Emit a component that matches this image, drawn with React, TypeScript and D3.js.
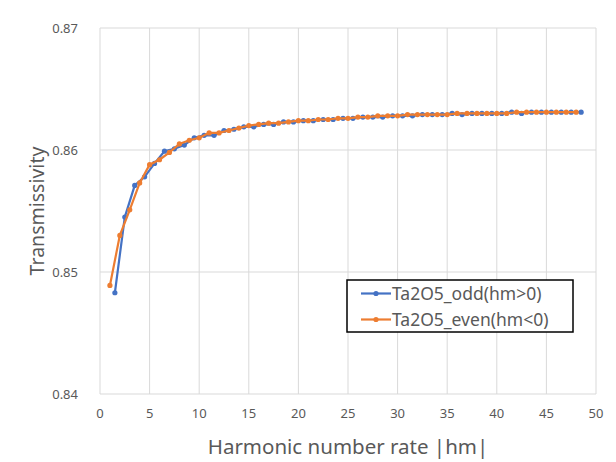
import { useEffect, useRef } from "react";
import * as d3 from "d3";

// blue series: hm = 1.5, 2.5, ... 48.5
const oddHm = [
  1.5, 2.5, 3.5, 4.5, 5.5, 6.5, 7.5, 8.5, 9.5, 10.5, 11.5, 12.5, 13.5, 14.5, 15.5, 16.5,
  17.5, 18.5, 19.5, 20.5, 21.5, 22.5, 23.5, 24.5, 25.5, 26.5, 27.5, 28.5, 29.5, 30.5, 31.5,
  32.5, 33.5, 34.5, 35.5, 36.5, 37.5, 38.5, 39.5, 40.5, 41.5, 42.5, 43.5, 44.5, 45.5, 46.5,
  47.5, 48.5,
];
const oddValues = [
  0.8483, 0.8545, 0.8571, 0.8578, 0.8589, 0.8599, 0.8601, 0.8604, 0.861, 0.8612, 0.8612,
  0.8616, 0.8617, 0.8619, 0.8619, 0.8621, 0.8621, 0.8623, 0.8623, 0.8624, 0.8624, 0.8625,
  0.8625, 0.8626, 0.8626, 0.8627, 0.8627, 0.8627, 0.8628, 0.8628, 0.8628, 0.8629, 0.8629,
  0.8629, 0.863, 0.8629, 0.863, 0.863, 0.863, 0.863, 0.8631, 0.863, 0.8631, 0.8631, 0.8631,
  0.8631, 0.8631, 0.8631,
];

// orange series: hm = 1, 2, ... 48
const evenHm = [
  1, 2, 3, 4, 5, 6, 7, 8, 9, 10, 11, 12, 13, 14, 15, 16, 17, 18, 19, 20, 21, 22, 23, 24,
  25, 26, 27, 28, 29, 30, 31, 32, 33, 34, 35, 36, 37, 38, 39, 40, 41, 42, 43, 44, 45, 46,
  47, 48,
];
const evenValues = [
  0.8489, 0.853, 0.8551, 0.8573, 0.8588, 0.8592, 0.8598, 0.8605, 0.8608, 0.861, 0.8614,
  0.8614, 0.8616, 0.8618, 0.862, 0.8621, 0.8622, 0.8622, 0.8623, 0.8624, 0.8624, 0.8625,
  0.8625, 0.8626, 0.8626, 0.8627, 0.8627, 0.8628, 0.8628, 0.8628, 0.8629, 0.8629, 0.8629,
  0.8629, 0.8629, 0.863, 0.863, 0.863, 0.863, 0.863, 0.863, 0.8631, 0.8631, 0.8631, 0.8631,
  0.8631, 0.8631, 0.8631,
];

const xTicks = [0, 5, 10, 15, 20, 25, 30, 35, 40, 45, 50];
const yTicks = [0.84, 0.85, 0.86, 0.87];
const seriesNames = ["Ta2O5_odd(hm>0)", "Ta2O5_even(hm<0)"];
const seriesColors = ["#4472C4", "#ED7D31"];

const FONT = "'Noto Sans', 'Open Sans', sans-serif";
const TEXT = "#595959";

export default function App() {
  const svgRef = useRef<SVGSVGElement>(null);

  useEffect(() => {
    if (!svgRef.current) return;
    const svg = d3.select(svgRef.current);
    svg.selectAll("*").remove();

    const margin = { top: 28, right: 20, bottom: 68, left: 100 };
    const width = 616 - margin.left - margin.right;
    const height = 462 - margin.top - margin.bottom;

    const x = d3.scaleLinear().domain([0, 50]).range([0, width]);
    const y = d3.scaleLinear().domain([0.84, 0.87]).range([height, 0]);

    const g = svg
      .append("g")
      .attr("transform", `translate(${margin.left},${margin.top})`);

    // grid
    g.selectAll(".vgrid")
      .data(xTicks)
      .enter()
      .append("line")
      .attr("x1", (d) => x(d))
      .attr("x2", (d) => x(d))
      .attr("y1", 0)
      .attr("y2", height)
      .attr("stroke", "#d9d9d9")
      .attr("stroke-width", 1);

    g.selectAll(".hgrid")
      .data(yTicks)
      .enter()
      .append("line")
      .attr("x1", 0)
      .attr("x2", width)
      .attr("y1", (d) => y(d))
      .attr("y2", (d) => y(d))
      .attr("stroke", "#d9d9d9")
      .attr("stroke-width", 1);

    // tick labels
    g.selectAll(".xlab")
      .data(xTicks)
      .enter()
      .append("text")
      .attr("x", (d) => x(d))
      .attr("y", height + 24)
      .attr("text-anchor", "middle")
      .attr("font-family", FONT)
      .attr("font-size", 13)
      .attr("fill", TEXT)
      .text((d) => d3.format("d")(d));

    g.selectAll(".ylab")
      .data(yTicks)
      .enter()
      .append("text")
      .attr("x", -22)
      .attr("y", (d) => y(d) + 5)
      .attr("text-anchor", "end")
      .attr("font-family", FONT)
      .attr("font-size", 13)
      .attr("fill", TEXT)
      .text((d) => d3.format(".2f")(d));

    // axis titles
    svg
      .append("text")
      .attr("x", margin.left + width / 2)
      .attr("y", 454)
      .attr("text-anchor", "middle")
      .attr("font-family", FONT)
      .attr("font-size", 20.5)
      .attr("fill", TEXT)
      .text("Harmonic number rate  |hm|");

    svg
      .append("text")
      .attr("transform", `translate(44,${margin.top + height / 2}) rotate(-90)`)
      .attr("text-anchor", "middle")
      .attr("font-family", FONT)
      .attr("font-size", 19.5)
      .attr("fill", TEXT)
      .text("Transmissivity");

    // series
    const series = [
      { xs: oddHm, ys: oddValues, color: seriesColors[0] },
      { xs: evenHm, ys: evenValues, color: seriesColors[1] },
    ];

    const line = d3
      .line<[number, number]>()
      .x((d) => x(d[0]))
      .y((d) => y(d[1]));

    series.forEach((s) => {
      const pts: [number, number][] = s.xs.map((v, i) => [v, s.ys[i]]);
      g.append("path")
        .datum(pts)
        .attr("d", line)
        .attr("fill", "none")
        .attr("stroke", s.color)
        .attr("stroke-width", 2.2);
      g.selectAll(null)
        .data(pts)
        .enter()
        .append("circle")
        .attr("cx", (d) => x(d[0]))
        .attr("cy", (d) => y(d[1]))
        .attr("r", 2.6)
        .attr("fill", s.color);
    });

    // legend
    const lg = svg.append("g").attr("transform", "translate(347,280)");
    lg.append("rect")
      .attr("width", 226)
      .attr("height", 52)
      .attr("fill", "white")
      .attr("stroke", "black")
      .attr("stroke-width", 1.5);
    seriesNames.forEach((name, i) => {
      const yy = 13.5 + i * 26;
      lg.append("line")
        .attr("x1", 14)
        .attr("x2", 44)
        .attr("y1", yy)
        .attr("y2", yy)
        .attr("stroke", seriesColors[i])
        .attr("stroke-width", 2.2);
      lg.append("circle")
        .attr("cx", 29)
        .attr("cy", yy)
        .attr("r", 2.6)
        .attr("fill", seriesColors[i]);
      lg.append("text")
        .attr("x", 45)
        .attr("y", yy + 6)
        .attr("font-family", FONT)
        .attr("font-size", 17.5)
        .attr("fill", TEXT)
        .text(name);
    });
  }, []);

  return (
    <svg
      ref={svgRef}
      width={616}
      height={462}
      style={{ position: "absolute", left: 0, top: 0, background: "white" }}
    />
  );
}
